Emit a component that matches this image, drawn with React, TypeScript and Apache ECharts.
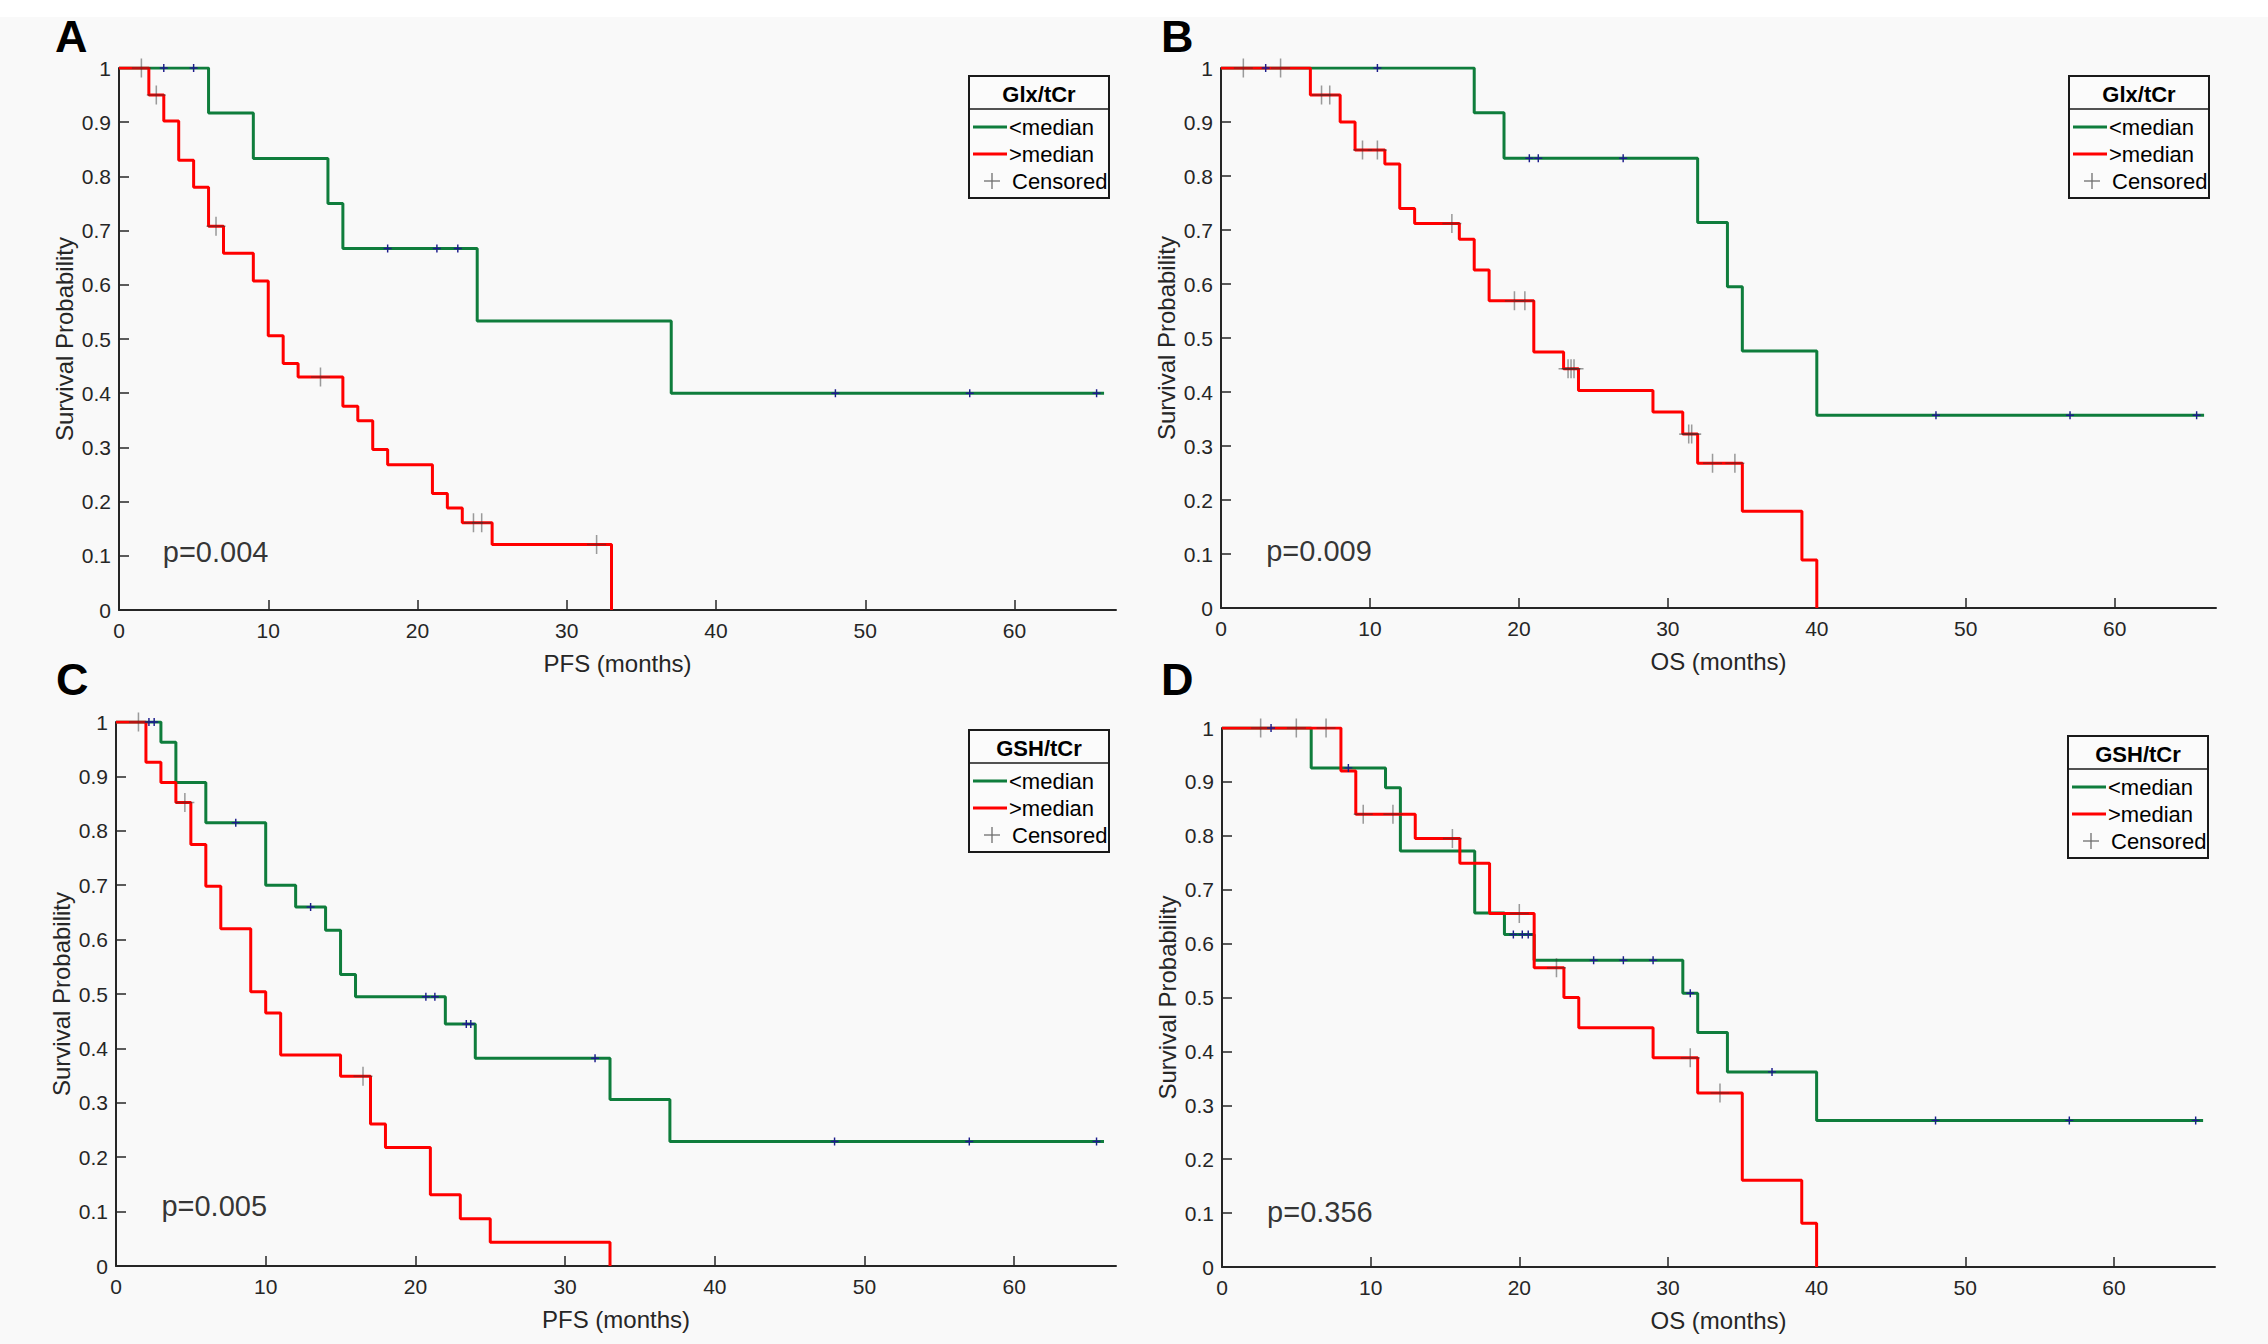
import React, { useEffect, useRef } from 'react';
import * as echarts from 'echarts';

const W = 2268;
const H = 1344;
const FONT = '"Liberation Sans", Arial, Helvetica, sans-serif';
const NARROW = '"Liberation Sans Narrow", "Liberation Sans", Arial, sans-serif';
const GREEN = '#0f7d3c';
const RED = '#ff0000';
const AXIS = '#262626';

const xTickValues = [0, 10, 20, 30, 40, 50, 60];
const yTickValues = [0, 0.1, 0.2, 0.3, 0.4, 0.5, 0.6, 0.7, 0.8, 0.9, 1];
const legendLabels = ['<median', '>median', 'Censored'];
const panelLetters = ['A', 'B', 'C', 'D'];
const xTitles = ['PFS (months)', 'OS (months)', 'PFS (months)', 'OS (months)'];
const legendTitles = ['Glx/tCr', 'Glx/tCr', 'GSH/tCr', 'GSH/tCr'];
const pValues = ['p=0.004', 'p=0.009', 'p=0.005', 'p=0.356'];

// ---- Panel A: Glx/tCr, PFS ----
const aLowTimes = [0, 6, 9, 14, 15, 24, 37, 66];
const aLowSurv = [1, 0.917, 0.833, 0.75, 0.667, 0.533, 0.4, 0.4];
const aLowCensT = [3, 5, 18, 21.3, 22.7, 48, 57, 65.5];
const aLowCensS = [1, 1, 0.667, 0.667, 0.667, 0.4, 0.4, 0.4];
const aHighTimes = [0, 2, 3, 4, 5, 6, 7, 9, 10, 11, 12, 15, 16, 17, 18, 21, 22, 23, 25, 33];
const aHighSurv = [1, 0.95, 0.902, 0.83, 0.78, 0.708, 0.658, 0.607, 0.506, 0.455, 0.43, 0.376, 0.349, 0.296, 0.268, 0.215, 0.188, 0.161, 0.121, 0];
const aHighCensT = [1.5, 2.5, 6.5, 13.5, 23.75, 24.3, 32];
const aHighCensS = [1, 0.95, 0.708, 0.43, 0.161, 0.161, 0.121];

// ---- Panel B: Glx/tCr, OS ----
const bLowTimes = [0, 17, 19, 32, 34, 35, 40, 66];
const bLowSurv = [1, 0.917, 0.833, 0.714, 0.595, 0.476, 0.357, 0.357];
const bLowCensT = [3, 10.5, 20.7, 21.3, 27, 48, 57, 65.5];
const bLowCensS = [1, 1, 0.833, 0.833, 0.833, 0.357, 0.357, 0.357];
const bHighTimes = [0, 6, 8, 9, 11, 12, 13, 16, 17, 18, 21, 23, 24, 29, 31, 32, 35, 39, 40];
const bHighSurv = [1, 0.95, 0.9, 0.848, 0.822, 0.74, 0.712, 0.683, 0.626, 0.569, 0.474, 0.443, 0.403, 0.363, 0.322, 0.268, 0.179, 0.089, 0];
const bHighCensT = [1.5, 4, 6.75, 7.3, 9.5, 10.5, 15.5, 19.7, 20.4, 23.3, 23.5, 23.7, 31.4, 31.6, 33, 34.5];
const bHighCensS = [1, 1, 0.95, 0.95, 0.848, 0.848, 0.712, 0.569, 0.569, 0.443, 0.443, 0.443, 0.322, 0.322, 0.268, 0.268];

// ---- Panel C: GSH/tCr, PFS ----
const cLowTimes = [0, 3, 4, 6, 10, 12, 14, 15, 16, 22, 24, 33, 37, 66];
const cLowSurv = [1, 0.963, 0.889, 0.815, 0.7, 0.66, 0.617, 0.536, 0.495, 0.445, 0.382, 0.306, 0.229, 0.229];
const cLowCensT = [2.2, 2.55, 8, 13, 20.7, 21.3, 23.4, 23.7, 32, 48, 57, 65.5];
const cLowCensS = [1, 1, 0.815, 0.66, 0.495, 0.495, 0.445, 0.445, 0.382, 0.229, 0.229, 0.229];
const cHighTimes = [0, 2, 3, 4, 5, 6, 7, 9, 10, 11, 15, 17, 18, 21, 23, 25, 33];
const cHighSurv = [1, 0.926, 0.889, 0.852, 0.775, 0.698, 0.62, 0.504, 0.465, 0.388, 0.349, 0.261, 0.218, 0.131, 0.087, 0.0435, 0];
const cHighCensT = [1.5, 4.6, 16.5];
const cHighCensS = [1, 0.852, 0.349];

// ---- Panel D: GSH/tCr, OS ----
const dLowTimes = [0, 6, 11, 12, 17, 19, 21, 31, 32, 34, 40, 66];
const dLowSurv = [1, 0.926, 0.889, 0.772, 0.657, 0.617, 0.569, 0.508, 0.435, 0.362, 0.272, 0.272];
const dLowCensT = [3.3, 8.5, 19.6, 20.2, 20.6, 25, 27, 29, 31.5, 37, 48, 57, 65.5];
const dLowCensS = [1, 0.926, 0.617, 0.617, 0.617, 0.569, 0.569, 0.569, 0.508, 0.362, 0.272, 0.272, 0.272];
const dHighTimes = [0, 8, 9, 13, 16, 18, 21, 23, 24, 29, 32, 35, 39, 40];
const dHighSurv = [1, 0.92, 0.84, 0.795, 0.749, 0.656, 0.555, 0.5, 0.444, 0.388, 0.323, 0.161, 0.081, 0];
const dHighCensT = [2.6, 5, 7, 9.5, 11.5, 15.5, 20, 22.5, 31.5, 33.5];
const dHighCensS = [1, 1, 1, 0.84, 0.84, 0.795, 0.656, 0.555, 0.388, 0.323];

const pair = (xs: number[], ys: number[]) => xs.map((x, i) => [x, ys[i]]);

const PLUS_THIN =
  'path://M-0.08,-1 L0.08,-1 L0.08,-0.08 L1,-0.08 L1,0.08 L0.08,0.08 L0.08,1 L-0.08,1 L-0.08,0.08 L-1,0.08 L-1,-0.08 L-0.08,-0.08 Z';
const PLUS_SMALL =
  'path://M-0.18,-1 L0.18,-1 L0.18,-0.18 L1,-0.18 L1,0.18 L0.18,0.18 L0.18,1 L-0.18,1 L-0.18,0.18 L-1,0.18 L-1,-0.18 L-0.18,-0.18 Z';

const panels = [
  {
    grid: { left: 119, top: 68, width: 997, height: 542 },
    low: pair(aLowTimes, aLowSurv), high: pair(aHighTimes, aHighSurv),
    lowC: pair(aLowCensT, aLowCensS), highC: pair(aHighCensT, aHighCensS),
    pPos: [2.9, 0.107], letterPos: [55, 14],
  },
  {
    grid: { left: 1221, top: 68, width: 995, height: 540 },
    low: pair(bLowTimes, bLowSurv), high: pair(bHighTimes, bHighSurv),
    lowC: pair(bLowCensT, bLowCensS), highC: pair(bHighCensT, bHighCensS),
    pPos: [3.0, 0.105], letterPos: [1161, 14],
  },
  {
    grid: { left: 116, top: 722, width: 1000, height: 544 },
    low: pair(cLowTimes, cLowSurv), high: pair(cHighTimes, cHighSurv),
    lowC: pair(cLowCensT, cLowCensS), highC: pair(cHighCensT, cHighCensS),
    pPos: [3.0, 0.11], letterPos: [56, 657],
  },
  {
    grid: { left: 1222, top: 728, width: 993, height: 539 },
    low: pair(dLowTimes, dLowSurv), high: pair(dHighTimes, dHighSurv),
    lowC: pair(dLowCensT, dLowCensS), highC: pair(dHighCensT, dHighCensS),
    pPos: [3.0, 0.102], letterPos: [1161, 657],
  },
];

function legendGraphic(x: number, y: number, title: string) {
  const w = 140;
  const h = 122;
  return {
    type: 'group',
    x,
    y,
    z: 50,
    children: [
      { type: 'rect', shape: { x: 0, y: 0, width: w, height: h }, style: { fill: '#fbfbfb', stroke: '#1a1a1a', lineWidth: 2 } },
      { type: 'line', shape: { x1: 0, y1: 33, x2: w, y2: 33 }, style: { stroke: '#1a1a1a', lineWidth: 1.5 } },
      { type: 'text', x: w / 2, y: 18, style: { text: title, font: `bold 22px ${FONT}`, fill: '#000', align: 'center', verticalAlign: 'middle' } },
      { type: 'line', shape: { x1: 4, y1: 51, x2: 38, y2: 51 }, style: { stroke: GREEN, lineWidth: 3 } },
      { type: 'text', x: 40, y: 51, style: { text: legendLabels[0], font: `22px ${FONT}`, fill: '#000', verticalAlign: 'middle' } },
      { type: 'line', shape: { x1: 4, y1: 78, x2: 38, y2: 78 }, style: { stroke: RED, lineWidth: 3 } },
      { type: 'text', x: 40, y: 78, style: { text: legendLabels[1], font: `22px ${FONT}`, fill: '#000', verticalAlign: 'middle' } },
      { type: 'line', shape: { x1: 15, y1: 105, x2: 31, y2: 105 }, style: { stroke: '#6e6e6e', lineWidth: 1.3 } },
      { type: 'line', shape: { x1: 23, y1: 97, x2: 23, y2: 113 }, style: { stroke: '#6e6e6e', lineWidth: 1.3 } },
      { type: 'text', x: 43, y: 105, style: { text: legendLabels[2], font: `22px ${FONT}`, fill: '#000', verticalAlign: 'middle' } },
    ],
  };
}

export default function App() {
  const ref = useRef<HTMLDivElement>(null);
  useEffect(() => {
    if (!ref.current) return;
    const chart = echarts.init(ref.current, undefined, { renderer: 'svg', width: W, height: H });

    const grids: any[] = [];
    const xAxes: any[] = [];
    const yAxes: any[] = [];
    const series: any[] = [];
    const graphics: any[] = [
      { type: 'rect', z: -10, shape: { x: 0, y: 0, width: W, height: 17 }, style: { fill: '#ffffff' } },
    ];

    panels.forEach((p, i) => {
      grids.push({ ...p.grid, containLabel: false });
      xAxes.push({
        type: 'value',
        gridIndex: i,
        min: 0,
        max: 66.8,
        name: xTitles[i],
        nameLocation: 'middle',
        nameGap: 41,
        nameTextStyle: { fontFamily: FONT, fontSize: 24, color: AXIS },
        axisLine: { show: true, onZero: false, lineStyle: { color: AXIS, width: 2 } },
        axisTick: { show: true, inside: true, length: 10, customValues: xTickValues, lineStyle: { color: AXIS, width: 1.5 } },
        axisLabel: { show: true, customValues: xTickValues, margin: 10, fontFamily: FONT, fontSize: 21, color: AXIS },
        splitLine: { show: false },
      });
      yAxes.push({
        type: 'value',
        gridIndex: i,
        min: 0,
        max: 1,
        interval: 0.1,
        name: 'Survival Probability',
        nameLocation: 'middle',
        nameGap: 43,
        nameTextStyle: { fontFamily: FONT, fontSize: 24, color: AXIS },
        axisLine: { show: true, onZero: false, lineStyle: { color: AXIS, width: 2 } },
        axisTick: { show: true, inside: true, length: 10, lineStyle: { color: AXIS, width: 1.5 } },
        axisLabel: {
          show: true,
          margin: 8,
          fontFamily: FONT,
          fontSize: 21,
          color: AXIS,
          formatter: (v: number) => String(Number(v.toFixed(1))),
        },
        splitLine: { show: false },
      });
      series.push({
        type: 'line',
        xAxisIndex: i,
        yAxisIndex: i,
        step: 'end',
        data: p.low,
        symbol: 'none',
        lineStyle: { color: GREEN, width: 3 },
        z: 2,
      });
      series.push({
        type: 'line',
        xAxisIndex: i,
        yAxisIndex: i,
        step: 'end',
        data: p.high,
        symbol: 'none',
        lineStyle: { color: RED, width: 3 },
        z: 3,
      });
      series.push({
        type: 'scatter',
        xAxisIndex: i,
        yAxisIndex: i,
        data: p.lowC,
        symbol: PLUS_SMALL,
        symbolSize: 8,
        itemStyle: { color: '#1c1c8c', opacity: 1 },
        z: 4,
      });
      series.push({
        type: 'scatter',
        xAxisIndex: i,
        yAxisIndex: i,
        data: p.highC,
        symbol: PLUS_THIN,
        symbolSize: 19,
        itemStyle: { color: 'rgba(50,50,50,0.6)' },
        z: 5,
      });
      series.push({
        type: 'scatter',
        xAxisIndex: i,
        yAxisIndex: i,
        data: [p.pPos],
        symbolSize: 1,
        itemStyle: { color: 'rgba(0,0,0,0)' },
        silent: true,
        label: {
          show: true,
          position: 'right',
          distance: 0,
          formatter: pValues[i],
          fontFamily: FONT,
          fontSize: 29,
          color: '#000',
        },
        z: 6,
      });

      const right = p.grid.left + p.grid.width;
      graphics.push(legendGraphic(right - 147, p.grid.top + 8, legendTitles[i]));
      graphics.push({
        type: 'text',
        x: p.letterPos[0],
        y: p.letterPos[1],
        z: 50,
        style: { text: panelLetters[i], font: `bold 45px ${NARROW}`, fill: '#000' },
      });
    });

    chart.setOption({
      animation: false,
      backgroundColor: '#f9f9f9',
      grid: grids,
      xAxis: xAxes,
      yAxis: yAxes,
      series,
      graphic: graphics,
    });
    return () => chart.dispose();
  }, []);

  return <div ref={ref} style={{ position: 'absolute', left: 0, top: 0, width: W, height: H }} />;
}
